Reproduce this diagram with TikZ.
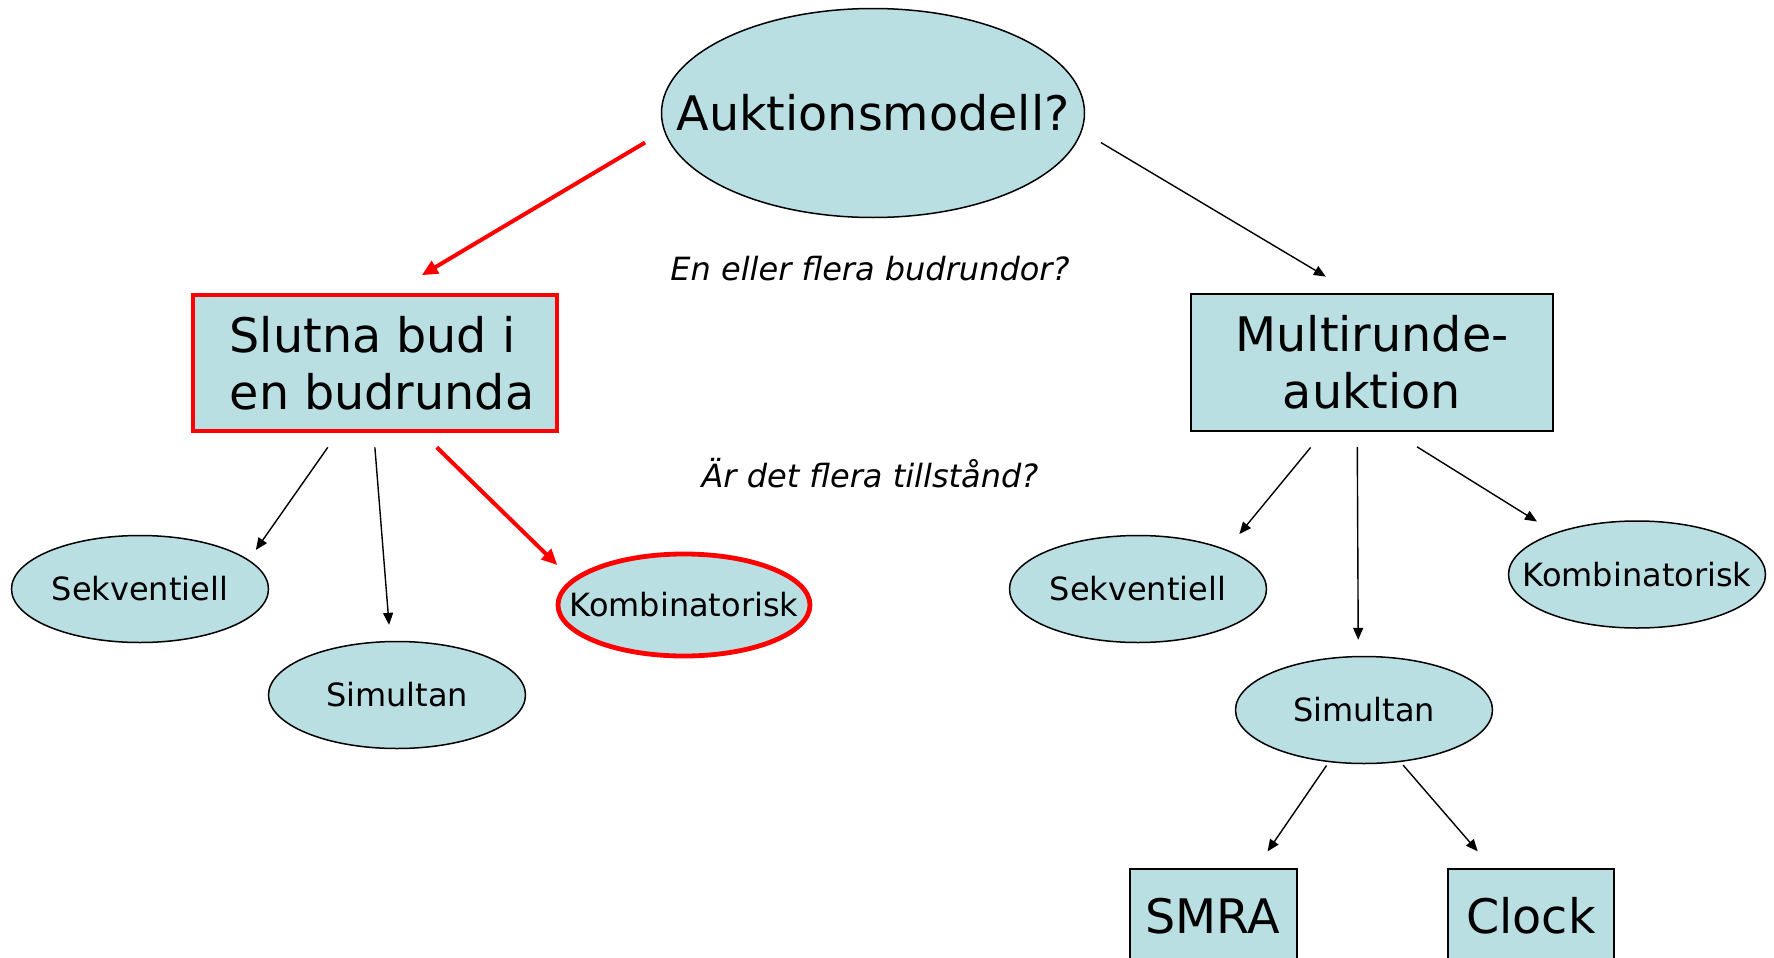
\documentclass[tikz,border=0pt]{standalone}
\usepackage{fontspec}
\setmainfont{DejaVu Sans}
\usepackage{tikz}
\usetikzlibrary{arrows.meta,shapes.geometric}

\definecolor{paleteal}{RGB}{185,223,227}
\definecolor{pptred}{RGB}{255,0,0}

\begin{document}
\begin{tikzpicture}[x=0.5pt, y=-0.5pt,
  bigtext/.style={font=\fontsize{23.8}{28.3}\selectfont},
  smalltext/.style={font=\fontsize{16}{19}\selectfont},
  asktext/.style={font=\fontsize{16}{19}\selectfont\itshape},
  oval/.style={draw, ellipse, fill=paleteal, line width=0.75pt, inner sep=0pt,
    minimum width=128.5pt, minimum height=53.5pt},
  box/.style={draw, rectangle, fill=paleteal, line width=1pt, inner sep=0pt, bigtext},
  chosen/.style={draw=pptred, line width=2.4pt},
  link/.style={-{Triangle[length=6pt,width=5pt]}, line width=0.7pt},
  redlink/.style={-{Triangle[length=8pt,width=7pt]}, line width=2pt, pptred}]

\useasboundingbox (0,0) rectangle (1774,958);
\clip (0,0) rectangle (1774,958);

% top question
\node[oval, minimum width=211.5pt, minimum height=104.5pt,
  label={[bigtext]center:Auktionsmodell?}] (top) at (873,113) {};
\node[asktext] (rounds) at (870,269) {En eller flera budrundor?};

% one round / many rounds
\node[box, chosen, minimum width=182pt, minimum height=68pt, align=left] (slutna) at (375,363)
  {\hspace*{7pt}Slutna bud i\\\hspace*{7pt}en budrunda};
\node[box, minimum width=181pt, minimum height=68.5pt, align=center] (multi) at (1372,362.5)
  {Multirunde-\\auktion};
\node[asktext] (items) at (870,473) {Är det flera tillstånd?};

% left branch
\node[oval, label={[smalltext]center:Sekventiell}] (sekL) at (140,589) {};
\node[oval, label={[smalltext]center:Simultan}] (simL) at (397,695) {};
\node[oval, chosen, minimum width=126pt, minimum height=51pt,
  label={[smalltext]center:Kombinatorisk}] (kombL) at (684,605) {};

% right branch
\node[oval, label={[smalltext]center:Sekventiell}] (sekR) at (1138,589) {};
\node[oval, label={[smalltext]center:Simultan}] (simR) at (1364,710) {};
\node[oval, label={[smalltext]center:Kombinatorisk}] (kombR) at (1637,574.5) {};

\node[box, minimum width=83.5pt, minimum height=47pt] (smra) at (1213,916) {SMRA};
\node[box, minimum width=83pt, minimum height=47pt] (clock) at (1531,916) {Clock};

% connectors
\draw[redlink, shorten <=11pt, shorten >=17pt] (top.185) -- (slutna.76);
\draw[link, shorten <=11pt, shorten >=16pt] (top.-5) -- (multi.105);

\draw[link, shorten <=8.5pt, shorten >=6pt] (slutna.242) -- (sekL.15);
\draw[link, shorten <=7pt, shorten >=8pt] (slutna.269) -- (simL.97);
\draw[redlink, shorten <=10pt, shorten >=10pt] (slutna.304) -- (kombL.167);

\draw[link, shorten <=10pt, shorten >=10pt] (multi.235) -- (sekR.24);
\draw[link, shorten <=7.5pt, shorten >=8pt] (multi.258) -- (simR.96);
\draw[link, shorten <=14pt, shorten >=10.5pt] (multi.287) -- (kombR.153);

\draw[link, shorten <=2pt, shorten >=10pt] (simR.236) -- (smra.48);
\draw[link, shorten <=2pt, shorten >=11pt] (simR.305) -- (clock.129);

\end{tikzpicture}
\end{document}
